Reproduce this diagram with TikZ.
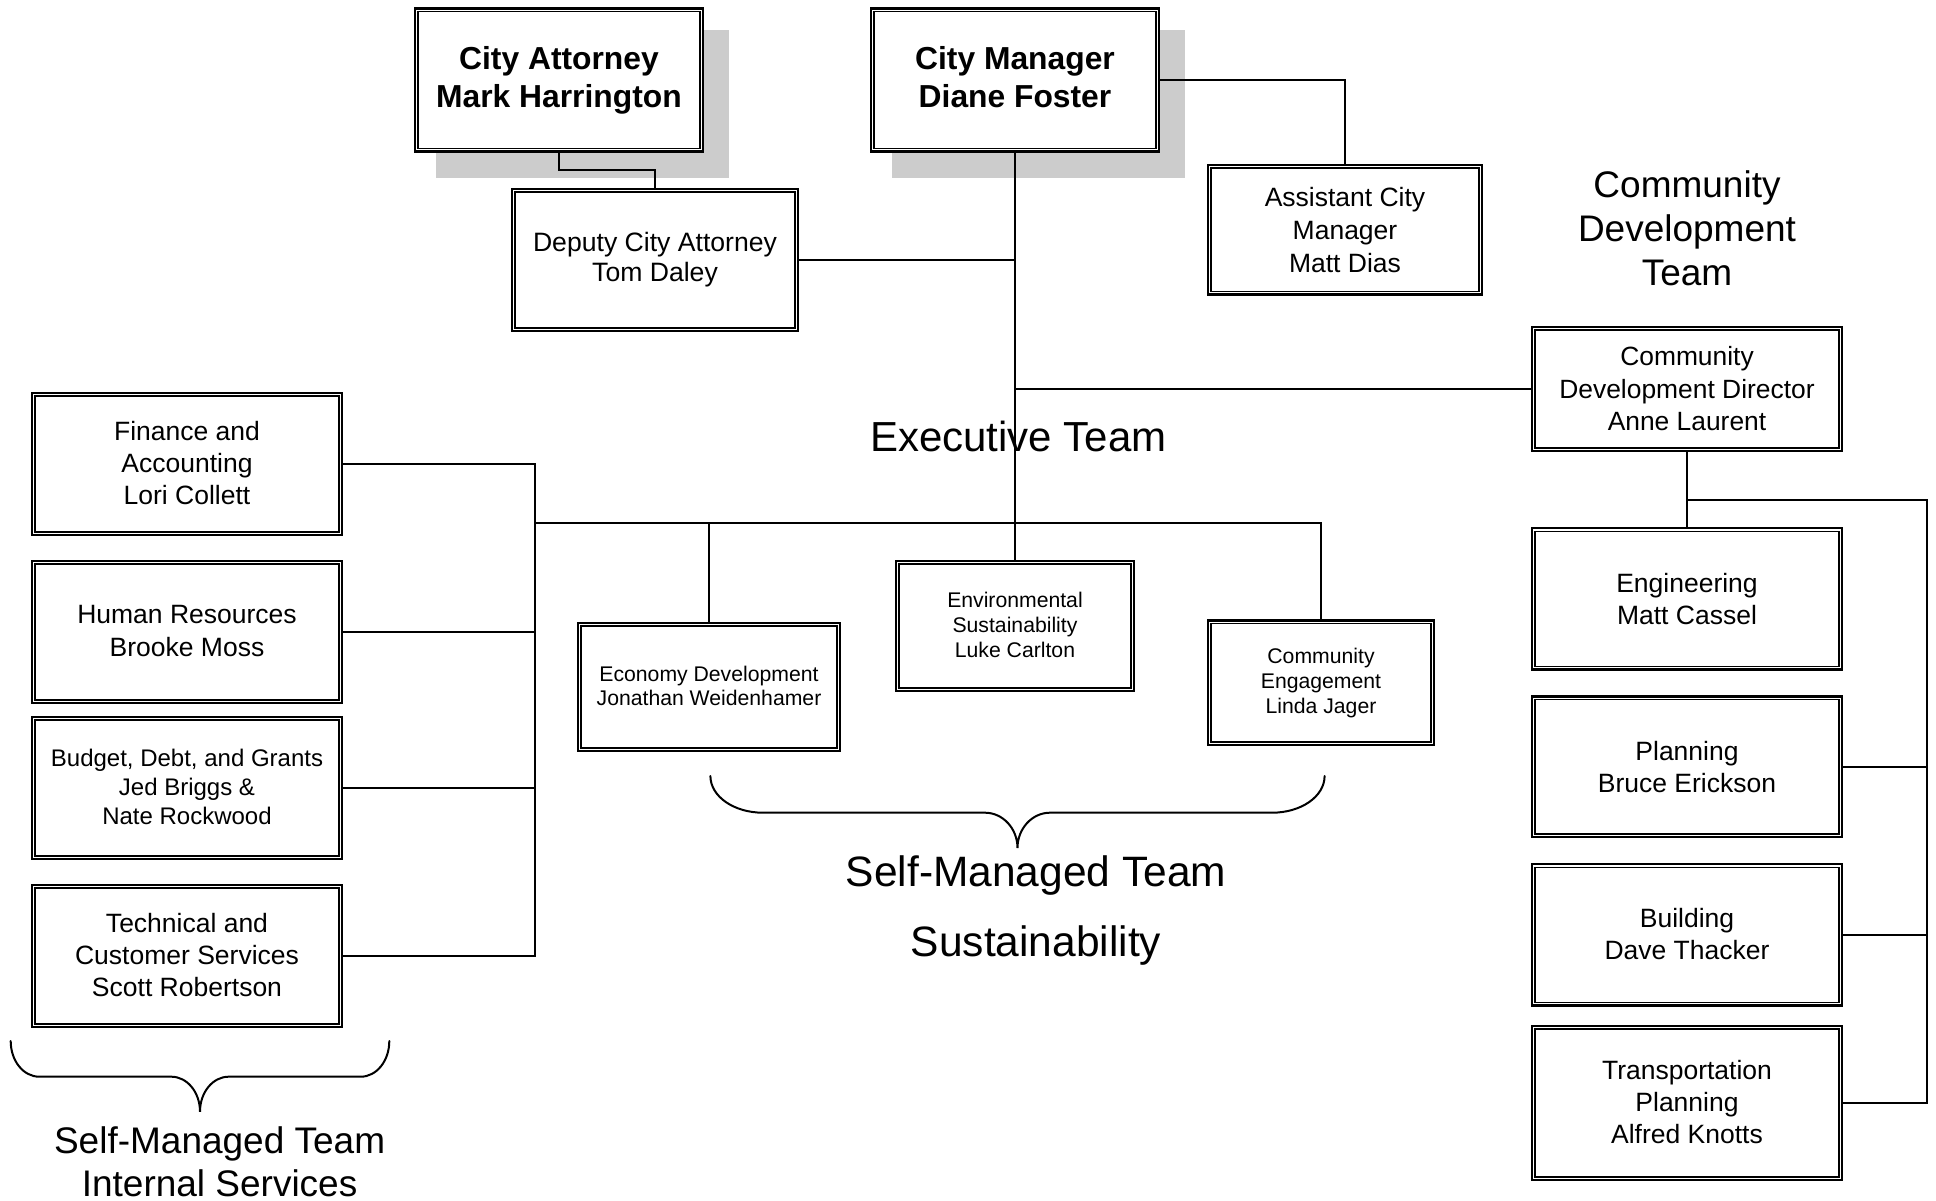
\documentclass[tikz,border=0pt]{standalone}
\usepackage{fontspec}
\setmainfont{Liberation Sans}
\usetikzlibrary{backgrounds}
\newcommand{\fsz}[2]{\fontsize{#1pt}{#2pt}\selectfont}
\newcommand{\lowstrut}{\rule[-2.1pt]{0pt}{2.1pt}}
\definecolor{shadowgray}{RGB}{204,204,204}
\begin{document}
\begin{tikzpicture}[x=1pt,y=-1pt,
  orgbox/.style={draw, line width=2.5pt, fill=white, inner sep=0pt, align=center},
  innerline/.style={line width=1.4pt},
  conn/.style={line width=2pt},
  bracestyle/.style={line width=2pt, line cap=round},
  boxfont/.style={font=\fsz{26.5}{32.2}},
  smallfont/.style={font=\fsz{21.2}{25}}]
\useasboundingbox (0,0) rectangle (1936,1201);

% ---- top row
\node[orgbox, minimum width=288pt, minimum height=143pt, font=\bfseries\fsz{31.8}{38}] (ca) at (559,80) {City Attorney\\Mark Harrington};
\node[orgbox, minimum width=288pt, minimum height=143pt, font=\bfseries\fsz{31.8}{38}] (cm) at (1015,80) {City Manager\\Diane Foster\vphantom{g}};
\node[orgbox, minimum width=286pt, minimum height=142pt, font=\fsz{26.6}{30}] (dca) at (655,260) {Deputy City Attorney\\Tom Daley};
\node[orgbox, minimum width=274pt, minimum height=129.5pt, font=\fsz{26.5}{33}] (acm) at (1345,229.8) {Assistant City\\Manager\\Matt Dias};

% ---- community development
\node[orgbox, minimum width=310pt, minimum height=124pt, font=\fsz{26.4}{32.5}] (cdd) at (1687,389) {Community\\Development Director\\Anne Laurent};
\node[orgbox, boxfont, minimum width=310pt, minimum height=141.5pt] (eng) at (1687,598.8) {Engineering\\Matt Cassel};
\node[orgbox, boxfont, minimum width=310pt, minimum height=140.5pt] (plan) at (1687,766.8) {Planning\\Bruce Erickson};
\node[orgbox, boxfont, minimum width=310pt, minimum height=141.5pt] (bld) at (1687,934.8) {Building\\Dave Thacker\lowstrut};
\node[orgbox, boxfont, minimum width=310pt, minimum height=154pt] (trn) at (1687,1103) {Transportation\\Planning\\Alfred Knotts\lowstrut};

% ---- internal services
\node[orgbox, boxfont, minimum width=310pt, minimum height=142pt] (fin) at (187,464) {Finance and\\Accounting\\Lori Collett\lowstrut};
\node[orgbox, boxfont, minimum width=310pt, minimum height=142pt] (hr) at (187,632) {Human Resources\\Brooke Moss\lowstrut};
\node[orgbox, minimum width=310pt, minimum height=142pt, font=\fsz{24}{29}] (bud) at (187,788) {Budget, Debt, and Grants\\Jed Briggs \&\\Nate Rockwood\lowstrut};
\node[orgbox, boxfont, minimum width=310pt, minimum height=142pt] (tech) at (187,956) {Technical and\\Customer Services\\Scott Robertson\lowstrut};

% ---- sustainability
\node[orgbox, minimum width=262pt, minimum height=128pt, font=\fsz{21.2}{24}] (eco) at (709,687) {Economy Development\\Jonathan Weidenhamer\lowstrut};
\node[orgbox, smallfont, minimum width=238pt, minimum height=130pt] (env) at (1015,626) {Environmental\\Sustainability\\Luke Carlton\lowstrut};
\node[orgbox, smallfont, minimum width=226pt, minimum height=124.5pt] (ceng) at (1321,682.8) {Community\\Engagement\\Linda Jager};

% ---- inner lines of the double borders
\foreach \n in {ca,cm,dca,acm,cdd,eng,plan,bld,trn,fin,hr,bud,tech,eco,env,ceng}
  \draw[innerline] ([xshift=4.4pt,yshift=-4.4pt]\n.north west) rectangle ([xshift=-4.4pt,yshift=4.4pt]\n.south east);

% ---- shadows
\begin{pgfonlayer}{background}
  \fill[shadowgray] ([xshift=22pt,yshift=-22.5pt]ca.north west) rectangle ([xshift=25pt,yshift=-25.5pt]ca.south east);
  \fill[shadowgray] ([xshift=22pt,yshift=-22.5pt]cm.north west) rectangle ([xshift=25pt,yshift=-25.5pt]cm.south east);
\end{pgfonlayer}

% ---- connectors
\coordinate (busL) at (534.6,523.3);
\coordinate (rbus) at (1926.5,500);
\draw[conn] (ca.south) -- ++(0,17.5) -| (dca.north);
\draw[conn] (dca.east) -- (dca.east -| cm.south);
\draw[conn] (cm.south) -- (env.north);
\draw[conn] (cm.east) -| (acm.north);
\draw[conn] (cdd.west) -- (cdd.west -| cm.south);
\draw[conn] (busL) -| (ceng.north);
\draw[conn] (eco.north) -- (eco.north |- busL);
\draw[conn] (fin.east) -- (fin.east -| busL) -- (tech.east -| busL) -- (tech.east);
\draw[conn] (hr.east) -- (hr.east -| busL);
\draw[conn] (bud.east) -- (bud.east -| busL);
\draw[conn] (cdd.south) -- (eng.north);
\draw[conn] (cdd.south |- rbus) -- (rbus) |- (trn.east);
\draw[conn] (plan.east) -- (plan.east -| rbus);
\draw[conn] (bld.east) -- (bld.east -| rbus);

% ---- braces
\draw[bracestyle] (710.4,776) .. controls (710.4,796.3) and (733.7,812.7) .. (763,812.7)
  -- (985,812.7) .. controls (1003,812.7) and (1017.5,828.7) .. (1017.5,848)
  .. controls (1017.5,828.7) and (1032,812.7) .. (1050,812.7)
  -- (1272,812.7) .. controls (1301.3,812.7) and (1324.6,796.3) .. (1324.6,776);
\draw[bracestyle] (10.7,1041) .. controls (10.7,1061) and (23.5,1076.7) .. (39.3,1076.7)
  -- (171.4,1076.7) .. controls (187,1076.7) and (200,1092) .. (200,1111.7)
  .. controls (200,1092) and (213,1076.7) .. (228.6,1076.7)
  -- (360.7,1076.7) .. controls (376.5,1076.7) and (389.3,1061) .. (389.3,1041);

% ---- labels (anchor=base of a multi-line node is the last line's baseline)
\node[font=\fsz{42}{50}, anchor=base, inner sep=0pt] (exec) at (1018.3,451.7) {Executive Team};
\node[font=\fsz{37}{44}, align=center, anchor=base, inner sep=0pt] (cdt) at (1687,285) {Community\\Development\\Team};
\node[font=\fsz{37}{43.4}, align=center, anchor=base, inner sep=0pt] (smi) at (219.6,1196.7) {Self-Managed Team\\Internal Services};
\node[font=\fsz{42.5}{70}, align=center, anchor=base, inner sep=0pt] (sms) at (1036,956.7) {Self-Managed Team\\Sustainability};
\end{tikzpicture}
\end{document}
